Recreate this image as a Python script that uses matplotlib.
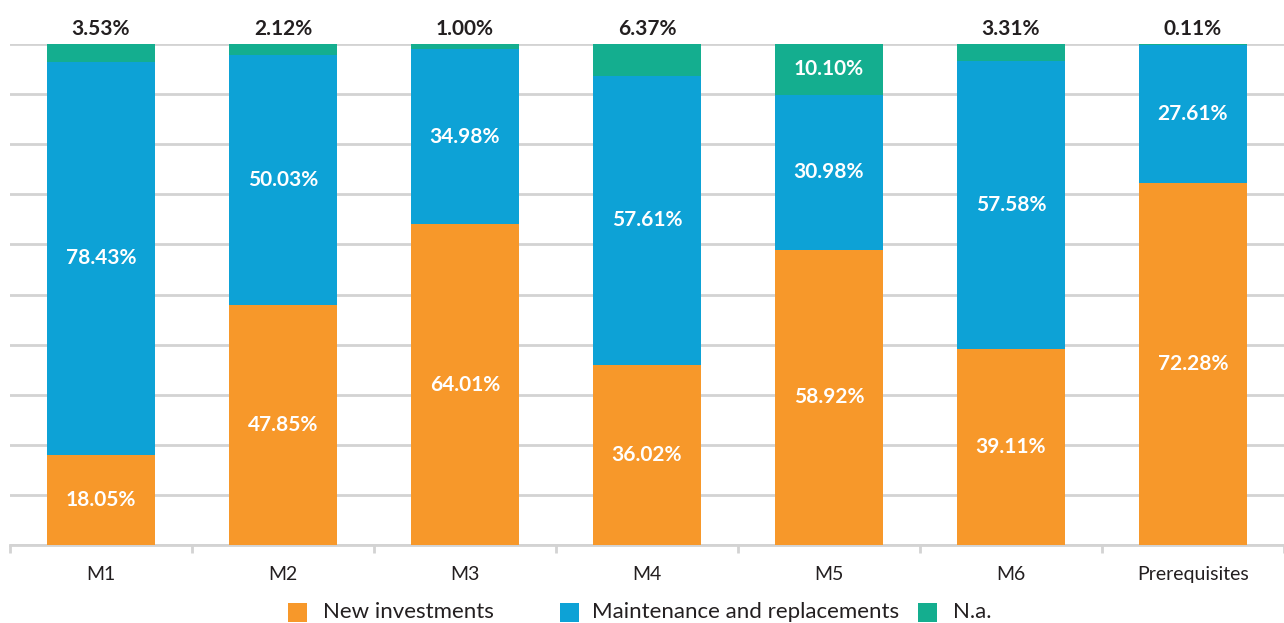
import matplotlib
matplotlib.use("Agg")
import matplotlib.pyplot as plt
from matplotlib.patches import Rectangle
import numpy as np

plt.rcParams['font.family'] = ['Lato', 'DejaVu Sans']

categories = ["M1", "M2", "M3", "M4", "M5", "M6", "Prerequisites"]
new_inv = [18.05, 47.85, 64.01, 36.02, 58.92, 39.11, 72.28]
maint = [78.43, 50.03, 34.98, 57.61, 30.98, 57.58, 27.61]
na = [3.53, 2.12, 1.00, 6.37, 10.10, 3.31, 0.11]
series_names = ["New investments", "Maintenance and replacements", "N.a."]
colors = ["#F7982A", "#0DA2D6", "#14AE8F"]

W, H = 1284, 623
fig = plt.figure(figsize=(W / 100, H / 100), dpi=100)
ax = fig.add_axes([10 / W, 78 / H, 1274 / W, 501 / H])

x = np.arange(len(categories))
w = 0.595
ax.bar(x, new_inv, w, color=colors[0], zorder=3)
ax.bar(x, maint, w, bottom=new_inv, color=colors[1], zorder=3)
bottom3 = [a + b for a, b in zip(new_inv, maint)]
ax.bar(x, na, w, bottom=bottom3, color=colors[2], zorder=3)

fs = 15
for i in range(len(categories)):
    ax.text(x[i], new_inv[i] / 2, f"{new_inv[i]:.2f}%", ha='center', va='center',
            color='white', fontsize=fs, fontweight='bold', zorder=4)
    ax.text(x[i], new_inv[i] + maint[i] / 2, f"{maint[i]:.2f}%", ha='center', va='center',
            color='white', fontsize=fs, fontweight='bold', zorder=4)
    if na[i] >= 8:
        ax.text(x[i], bottom3[i] + na[i] / 2, f"{na[i]:.2f}%", ha='center', va='center',
                color='white', fontsize=fs, fontweight='bold', zorder=4)
    else:
        ax.text(x[i], 101.0, f"{na[i]:.2f}%", ha='center', va='bottom',
                color='#231F20', fontsize=fs, fontweight='bold', zorder=4)

ax.set_xlim(-0.5, len(categories) - 0.5)
ax.set_ylim(0, 100)
ax.set_yticks(np.arange(0, 101, 10))
ax.yaxis.grid(True, color='#D3D3D3', linewidth=2, zorder=0)
ax.tick_params(axis='y', left=False, labelleft=False)
ax.set_xticks(x)
ax.set_xticklabels(categories, fontsize=14, color='#231F20')
ax.tick_params(axis='x', which='major', length=0, pad=15)
ax.set_xticks(np.arange(-0.5, len(categories), 1), minor=True)
ax.tick_params(axis='x', which='minor', length=6, width=2, color='#D3D3D3')
for s in ['top', 'right', 'left']:
    ax.spines[s].set_visible(False)
ax.spines['bottom'].set_color('#D3D3D3')
ax.spines['bottom'].set_linewidth(2)
ax.spines['bottom'].set_zorder(1)

# legend placed manually (uneven spacing in reference)
square_x = [288, 560, 918]
text_x = [323, 592, 953]
for sx, tx, c, name in zip(square_x, text_x, colors, series_names):
    fig.patches.append(Rectangle((sx / W, (H - 622) / H), 19 / W, 19 / H,
                                 transform=fig.transFigure, facecolor=c,
                                 edgecolor='none', figure=fig))
    fig.text(tx / W, (H - 612) / H, name, ha='left', va='center',
             fontsize=16, color='#231F20')

fig.savefig("out.png", dpi=100)
